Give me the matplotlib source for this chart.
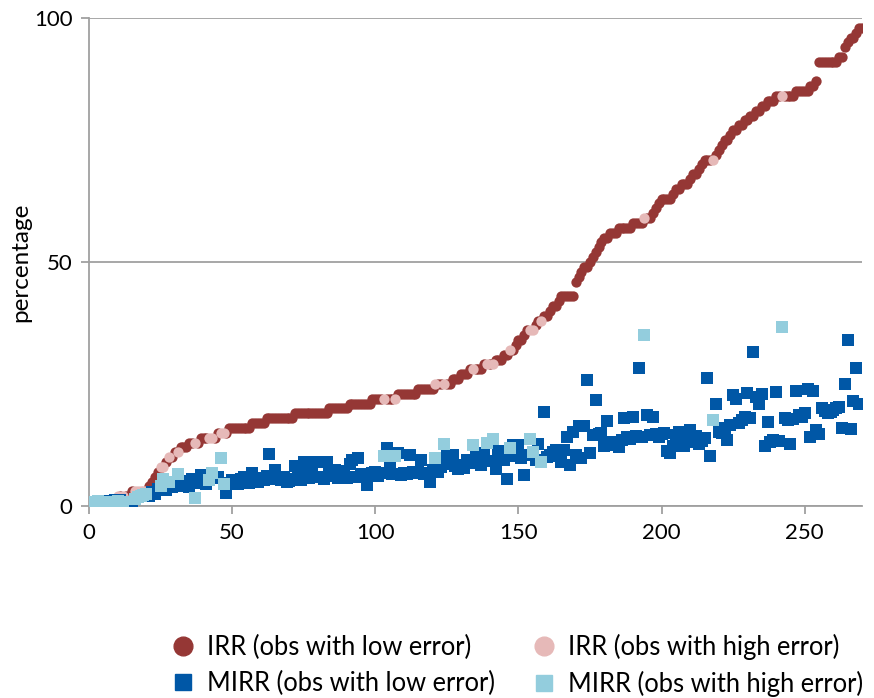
import matplotlib
matplotlib.use("Agg")
import matplotlib.pyplot as plt
from matplotlib.lines import Line2D
import numpy as np

plt.rcParams['font.family'] = ['Lato', 'DejaVu Sans']

# IRR values (sorted, one per observation rank 1..270)
irr = [0,0,0,0,0,1,1,1,1,2, 2,2,2,2,3,3,3,3,3,3, 4,5,6,7,8,8,9,10,10,11,
       11,12,12,12,13,13,13,13,14,14, 14,14,14,14,15,15,15,15,16,16, 16,16,16,16,16,16,17,17,17,17,
       17,18,18,18,18,18,18,18,18,18, 18,19,19,19,19,19,19,19,19,19, 19,19,19,20,20,20,20,20,20,20,
       21,21,21,21,21,21,21,21,22,22, 22,22,22,22,22,22,22,23,23,23, 23,23,23,23,24,24,24,24,24,24,
       25,25,25,25,25,25,26,26,26,27, 27,27,28,28,28,28,28,29,29,29, 29,30,30,30,31,31,32,32,33,34,
       34,35,36,36,36,37,38,38,39,39, 40,41,41,42,43,43,43,43,43,46, 47,48,49,49,50,51,52,53,54,55,
       55,56,56,56,57,57,57,57,57,58, 58,58,58,59,59,59,60,61,62,63, 63,63,63,64,65,65,66,66,66,67,
       68,68,69,70,71,71,71,71,72,73, 74,75,75,76,77,77,78,78,79,79, 80,80,81,81,82,82,83,83,83,84,
       84,84,84,84,84,84,85,85,85,85, 85,86,86,87,91,91,91,91,91,91, 91,92,92,94,95,96,96,97,98,98]

# MIRR values for the same observations
mirr = [0.8,0.6,1.0,0.7,1.1,0.9,1.0,0.8,1.2,1.0,
        1.3,0.9,0.6,0.5,0.7,1.5,1.8,2.0,2.2,2.4,
        2.0,2.8,2.4,3.5,4.0,5.6,3.2,5.0,3.8,4.3,
        6.6,4.0,5.2,4.7,3.8,5.5,1.6,4.7,6.3,5.0,
        4.5,5.3,6.7,5.8,6.0,9.8,4.6,2.6,4.8,5.3,
        5.0,4.6,5.5,6.0,5.2,4.8,6.7,5.6,5.0,5.8,
        5.3,6.2,10.6,5.5,7.4,5.6,5.3,6.0,5.0,5.2,
        5.6,8.2,6.0,5.4,9.1,7.0,5.8,7.4,9.1,6.0,
        9.1,5.6,9.0,7.4,6.2,7.4,5.8,7.2,6.4,5.7,
        8.6,9.4,6.0,9.8,6.5,6.2,4.3,6.6,6.8,7.0,
        6.2,6.8,10.2,11.8,8.4,6.5,10.3,10.8,6.3,6.8,
        6.5,10.4,7.0,6.7,6.9,9.4,6.5,6.8,5.0,7.4,
        9.8,7.0,8.0,12.7,10.4,8.6,10.4,8.2,7.6,8.5,
        7.7,9.4,8.8,12.5,10.8,9.4,8.4,10.8,13.0,9.2,
        13.7,7.5,11.3,9.8,9.4,5.5,11.8,12.5,10.2,12.5,
        9.8,6.4,10.5,13.7,11.0,9.4,12.8,9.0,19.2,10.0,
        10.4,11.0,11.5,10.2,9.0,11.5,14.2,8.4,15.2,10.5,
        16.3,9.8,16.4,25.8,10.8,14.5,21.7,14.8,15.0,12.3,
        17.4,12.8,13.2,12.6,12.1,13.5,18.0,14.1,13.8,18.3,
        14.3,28.2,14.1,35.0,18.6,14.5,18.3,14.8,14.2,14.8,
        15.0,11.2,10.8,12.2,14.6,15.2,13.0,12.2,14.0,15.6,
        13.2,14.4,12.8,13.4,13.9,26.2,10.2,17.6,21.0,15.2,
        14.9,16.0,13.5,16.6,22.7,21.9,17.0,17.6,18.3,23.1,
        18.0,31.6,22.4,21.0,22.9,12.2,17.2,13.2,13.5,23.4,
        13.3,36.6,18.0,17.6,12.8,17.8,23.6,18.6,18.2,19.1,
        23.9,14.2,23.6,15.6,14.8,20.0,19.5,19.0,19.3,19.6,
        20.0,20.2,16.0,25.0,34.0,15.8,21.6,28.2,21.0,21.0]

# observation ranks with high error
high_error = [1,2,3,4,6,8,10,12,16,17,18,19,20,25,26,28,31,37,42,43,46,47,
              103,107,121,124,134,139,141,147,154,155,158,194,218,242]

labels = ["IRR (obs with low error)", "IRR (obs with high error)",
          "MIRR (obs with low error)", "MIRR (obs with high error)"]
x_ticks = [0, 50, 100, 150, 200, 250]
y_ticks = [0, 50, 100]

c_irr_lo, c_irr_hi = '#953735', '#E6B9B8'
c_mirr_lo, c_mirr_hi = '#0057A6', '#93CDDD'
grey = '#A0A0A0'

obs = np.arange(1, len(irr) + 1)
irr_a = np.array(irr, dtype=float)
mirr_a = np.array(mirr, dtype=float)
hi = np.isin(obs, high_error)
lo = ~hi

fig = plt.figure(figsize=(8.74, 6.98), dpi=100)
ax = fig.add_axes([89/874, 1-506/698, (862-89)/874, (506-18)/698])

ms_c = 55
ms_s = 64
ax.scatter(obs[lo], irr_a[lo], s=ms_c, marker='o', color=c_irr_lo, linewidths=0, zorder=3)
ax.scatter(obs[hi], irr_a[hi], s=ms_c, marker='o', color=c_irr_hi, linewidths=0, zorder=3)
ax.scatter(obs[lo], mirr_a[lo], s=ms_s, marker='s', color=c_mirr_lo, linewidths=0, zorder=4)
ax.scatter(obs[hi], mirr_a[hi], s=ms_s, marker='s', color=c_mirr_hi, linewidths=0, zorder=4)

ax.set_xlim(0, 270)
ax.set_ylim(0, 100)
ax.set_xticks(x_ticks)
ax.set_yticks(y_ticks)
for s in ['top', 'right']:
    ax.spines[s].set_visible(False)
for s in ['left', 'bottom']:
    ax.spines[s].set_color(grey)
    ax.spines[s].set_linewidth(1.3)
ax.tick_params(axis='both', direction='out', length=6, width=1.3, color=grey,
               labelsize=16, pad=6)
ax.yaxis.grid(True, color=grey, linewidth=1.3)
ax.set_axisbelow(True)
ax.set_ylabel('percentage', fontsize=17.5, labelpad=2)
for t in ax.get_xticklabels() + ax.get_yticklabels():
    t.set_color('black')
ax.patch.set_alpha(0)

handles = [
    Line2D([], [], marker='o', linestyle='none', markersize=13.5, color=c_irr_lo),
    Line2D([], [], marker='s', linestyle='none', markersize=12, color=c_mirr_lo),
    Line2D([], [], marker='o', linestyle='none', markersize=13.5, color=c_irr_hi),
    Line2D([], [], marker='s', linestyle='none', markersize=12, color=c_mirr_hi),
]
leg_labels = [labels[0], labels[2], labels[1], labels[3]]
fig.legend(handles, leg_labels, ncol=2, loc='upper left',
           bbox_to_anchor=(170/874, 1-634/698), frameon=False, fontsize=18.4,
           handlelength=1.0, handletextpad=0.45, columnspacing=1.4,
           labelspacing=0.42, borderpad=0, borderaxespad=0)

fig.savefig('out.png', dpi=100)
